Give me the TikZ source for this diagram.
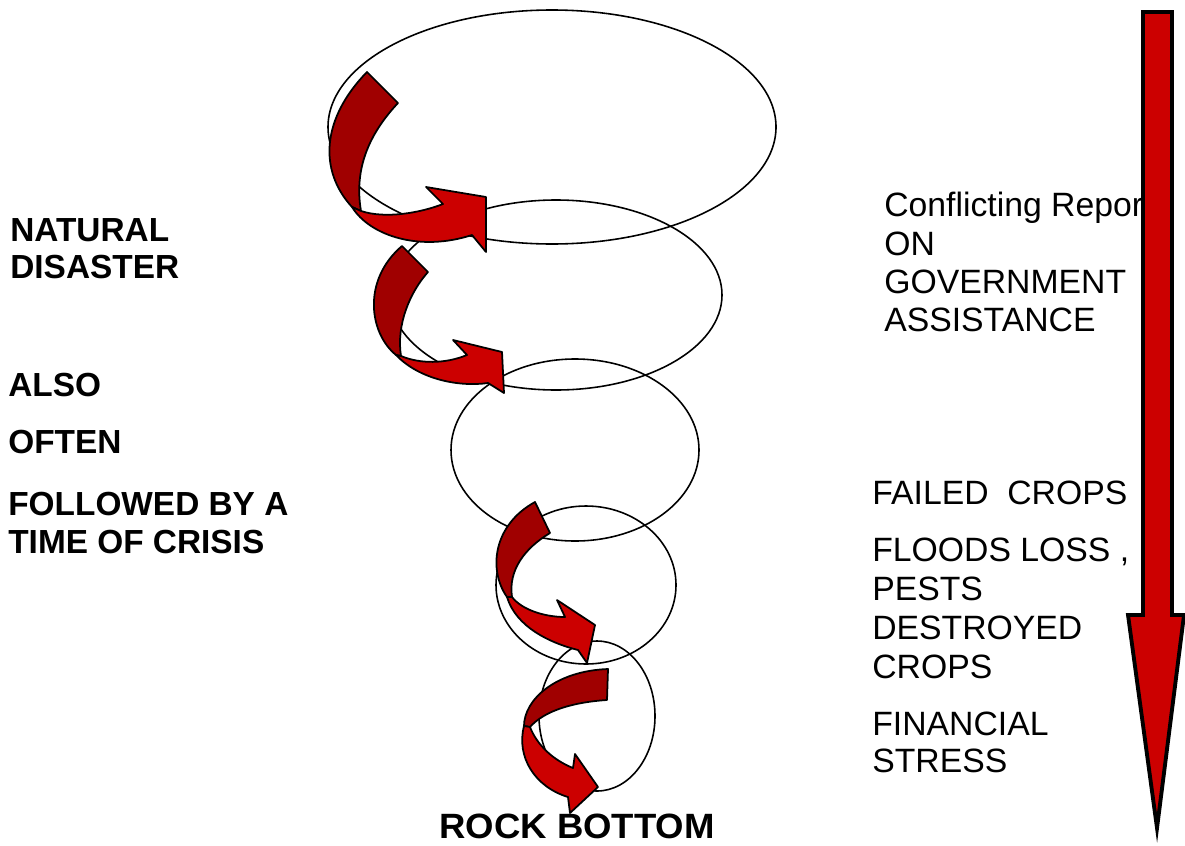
\documentclass[tikz,border=0pt]{standalone}
\usepackage{fontspec}
\setmainfont{Liberation Sans}
\usepackage{xcolor}
\definecolor{darkred}{HTML}{A00000}
\definecolor{brightred}{HTML}{CC0000}

\begin{document}
\begin{tikzpicture}[x=0.02cm, y=-0.02cm, line join=round, line cap=round,
    ring/.style={draw=black, line width=0.9pt},
    tailpart/.style={fill=darkred, draw=black, line width=1pt},
    headpart/.style={fill=brightred, draw=black, line width=1pt},
    lefttext/.style={anchor=north west, inner sep=0pt, align=left,
      font=\fontsize{19}{21.3}\selectfont\bfseries},
    righttext/.style={anchor=north west, inner sep=0pt, align=left,
      font=\fontsize{19.2}{21.8}\selectfont}]

    \useasboundingbox (0,0) rectangle (1185,845);

    % Centres of the rings
    \coordinate (E1) at (552,127);
    \coordinate (E2) at (556,295);
    \coordinate (E3) at (575,450);
    \coordinate (E4) at (586,585);
    \coordinate (E5) at (597,716);

    % Rings of the funnel
    \draw[ring] (E1) ellipse [x radius=224, y radius=117];
    \draw[ring] (E2) ellipse [x radius=166, y radius=95];
    \draw[ring] (E3) ellipse [x radius=124, y radius=91];
    \draw[ring] (E4) ellipse [x radius=90, y radius=79];
    \draw[ring] (E5) ellipse [x radius=58, y radius=75];

    % Curved arrow 1
    \filldraw[tailpart] (367,72) -- (398,103)
      .. controls (368,135) and (354,170) .. (361,211) -- (352,207)
      .. controls (318,170) and (322,118) .. (367,72) -- cycle;
    \filldraw[headpart] (352,207) .. controls (370,236) and (420,252) .. (472,235)
      -- (486,252) -- (486,197) -- (426,187) -- (443,204)
      .. controls (420,213) and (385,219) .. (361,211) -- cycle;

    % Curved arrow 2
    \filldraw[tailpart] (402,246) -- (428,272)
      .. controls (410,292) and (396,325) .. (401,356) -- (396,355)
      .. controls (369,333) and (362,280) .. (402,246) -- cycle;
    \filldraw[headpart] (396,355) .. controls (420,380) and (460,387) .. (488,383)
      -- (504,393) -- (502,352) -- (453,340) -- (467,355)
      .. controls (445,364) and (420,364) .. (401,356) -- cycle;

    % Curved arrow 3
    \filldraw[tailpart] (535,502) -- (550,533)
      .. controls (525,548) and (508,570) .. (512,597) -- (507,597)
      .. controls (488,570) and (493,525) .. (535,502) -- cycle;
    \filldraw[headpart] (507,597) .. controls (516,627) and (550,643) .. (578,650)
      -- (587,663) -- (595,625) -- (557,600) -- (565,617)
      .. controls (545,617) and (522,610) .. (512,597) -- cycle;

    % Curved arrow 4
    \filldraw[tailpart] (608,669) -- (607,700)
      .. controls (575,702) and (545,710) .. (530,727) -- (524,726)
      .. controls (524,700) and (555,671) .. (608,669) -- cycle;
    \filldraw[headpart] (524,726) .. controls (516,757) and (535,787) .. (568,797)
      -- (570,813) -- (598,787) -- (575,754) -- (573,768)
      .. controls (553,760) and (537,745) .. (530,727) -- cycle;

    % Left labels
    \node[lefttext] (natural)  at (10,218)  {NATURAL\\DISASTER};
    \node[lefttext] (also)     at (8,373)   {ALSO};
    \node[lefttext] (often)    at (8,430)   {OFTEN};
    \node[lefttext] (followed) at (8,492)   {FOLLOWED BY A\\TIME OF CRISIS};

    % Right labels
    \node[righttext] (conflict)  at (884,192) {Conflicting Report\\ON\\GOVERNMENT\\ASSISTANCE};
    \node[righttext] (failed)    at (872,481) {FAILED\ \ CROPS};
    \node[righttext, font=\fontsize{19.2}{22.2}\selectfont]
                     (floods)    at (872,538) {FLOODS LOSS ,\\PESTS\\DESTROYED\\CROPS};
    \node[righttext, font=\fontsize{19.2}{21}\selectfont]
                     (financial) at (872,712) {FINANCIAL\\STRESS};

    % Bottom label
    \node[anchor=north, inner sep=0pt, xscale=1.04,
          font=\fontsize{20}{22}\selectfont\bfseries] (rock) at (577,814) {ROCK BOTTOM};

    % Big downward arrow
    \filldraw[fill=brightred, draw=black, line width=2.2pt, line cap=butt, line join=miter]
      (1143,12) -- (1172,12) -- (1172,615) -- (1184,615) -- (1157,828)
      -- (1128,615) -- (1143,615) -- cycle;

\end{tikzpicture}
\end{document}
